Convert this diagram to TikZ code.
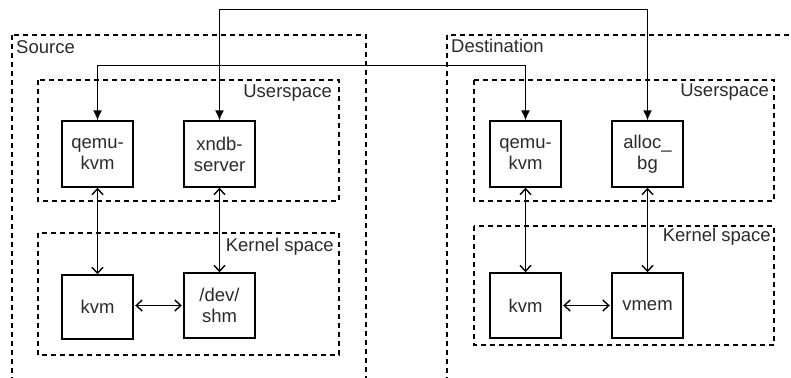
\documentclass[tikz,border=0pt]{standalone}
\usepackage{fontspec}
\setmainfont{Liberation Sans}
\usetikzlibrary{arrows.meta}
\definecolor{txt}{HTML}{2B2B2B}
\tikzset{
  compbox/.style={draw=black, line width=1.4pt, minimum width=71pt, minimum height=65pt, inner sep=0pt, align=center, text=txt, font=\fontsize{18.5}{21}\selectfont},
  dashbox/.style={draw=black, line width=1.3pt, dash pattern=on 5pt off 4pt},
  lbl/.style={text=txt, inner sep=0pt, font=\fontsize{18.5}{21}\selectfont},
  link/.style={line width=1.4pt, {Latex[length=10pt,width=9pt]}-{Latex[length=10pt,width=9pt]}},
  bidir/.style={line width=1.4pt, {Straight Barb[length=6pt,width=11pt]}-{Straight Barb[length=6pt,width=11pt]}}
}
\begin{document}
\begin{tikzpicture}[x=1pt,y=-1pt]
\useasboundingbox (0,0) rectangle (791,377);
\clip (0,0) rectangle (791,377);
\fill[white] (0,0) rectangle (791,377);
% containers
\draw[dashbox] (12,35) rectangle (366,400);
\draw[dashbox] (38,80) rectangle (339,201);
\draw[dashbox] (38,233) rectangle (339,355);
\draw[dashbox] (447,35) rectangle (820,400);
\draw[dashbox] (474,80) rectangle (774,201);
\draw[dashbox] (474,226) rectangle (774,345);
% labels
\node[lbl, anchor=west] (lsrc) at (16,47) {Source};
\node[lbl, anchor=west] (ldst) at (451,46) {Destination};
\node[lbl, anchor=east] (lus1) at (332,93) {Userspace};
\node[lbl, anchor=east] (lks1) at (334,247) {Kernel space};
\node[lbl, anchor=east] (lus2) at (769,92) {Userspace};
\node[lbl, anchor=east] (lks2) at (771,237) {Kernel space};
% boxes
\node[compbox, minimum height=66pt] (qs) at (97.5,154) {qemu-\\kvm};
\node[compbox, minimum height=66pt] (xs) at (219.5,154) {xndb-\\server};
\node[compbox, minimum height=64pt] (ks) at (97.5,307) {kvm};
\node[compbox] (ds) at (219.5,305.5) {/dev/\\shm};
\node[compbox, minimum height=66pt] (qd) at (525.5,154) {qemu-\\kvm};
\node[compbox, minimum height=66pt] (ad) at (647.5,154) {alloc\_\\bg};
\node[compbox] (kd) at (525.5,305.5) {kvm};
\node[compbox] (vd) at (647.5,305.5) {vmem};
% links
\draw[link] (qs.north) -- ([yshift=55pt]qs.north) -| (qd.north);
\draw[link] (xs.north) -- ([yshift=111pt]xs.north) -| (ad.north);
\draw[bidir] (qs.south) -- (ks.north);
\draw[bidir] (xs.south) -- (ds.north);
\draw[bidir] (qd.south) -- (kd.north);
\draw[bidir] (ad.south) -- (vd.north);
\draw[bidir] ([xshift=1.5pt]ks.east |- ds.center) -- ([xshift=-1.5pt]ds.west);
\draw[bidir] ([xshift=1.5pt]kd.east) -- ([xshift=-1.5pt]vd.west);
\end{tikzpicture}
\end{document}
